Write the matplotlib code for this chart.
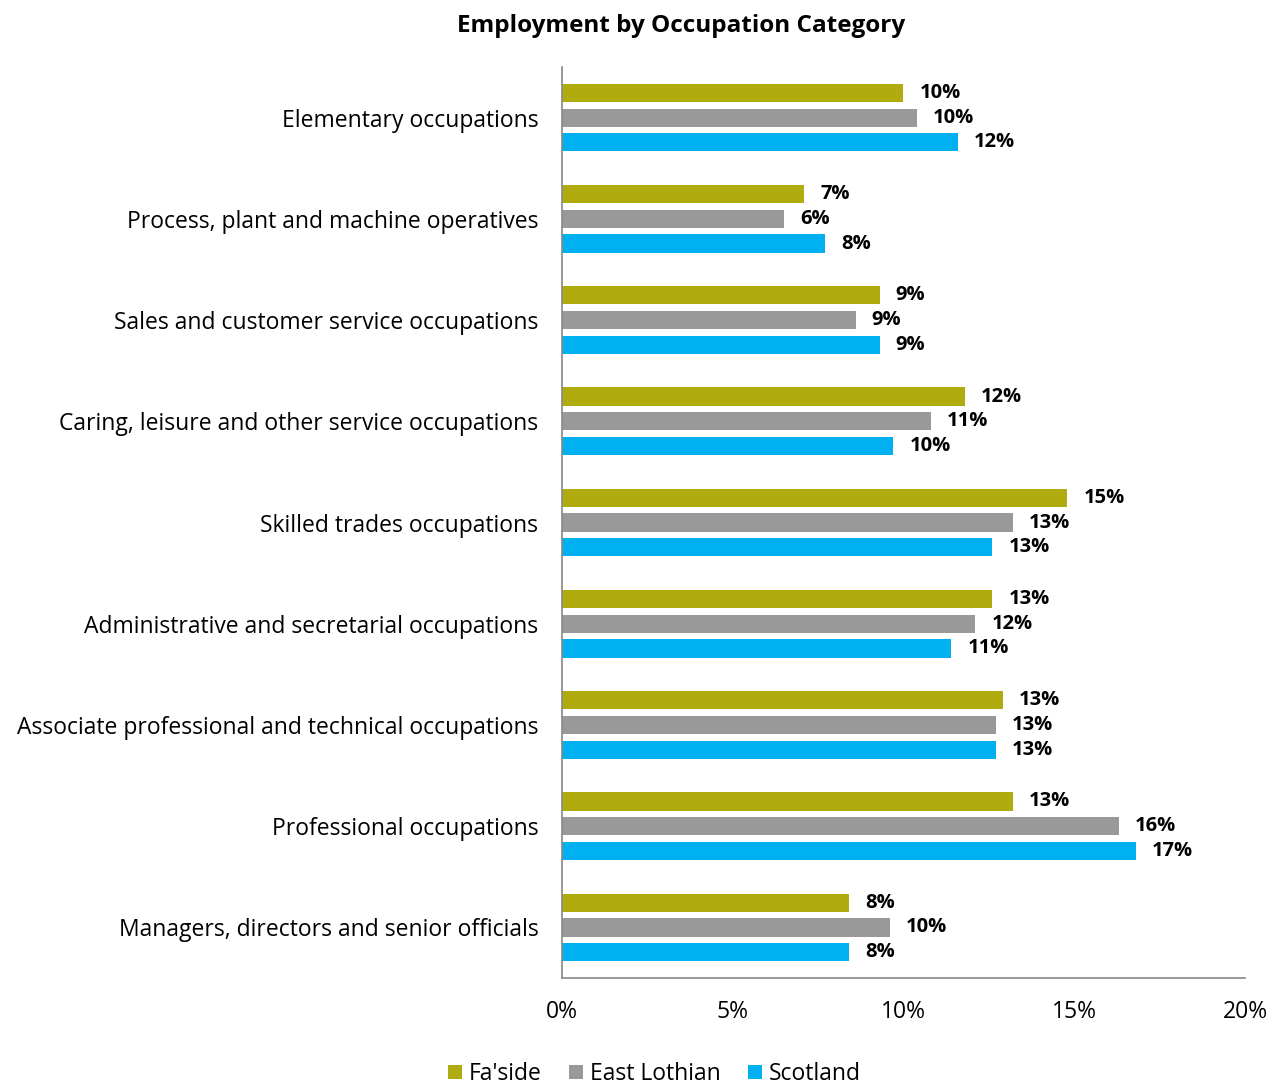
import matplotlib
matplotlib.use("Agg")
import matplotlib.pyplot as plt
import numpy as np

plt.rcParams['font.family'] = ['Open Sans', 'DejaVu Sans']

categories = [
    "Managers, directors and senior officials",
    "Professional occupations",
    "Associate professional and technical occupations",
    "Administrative and secretarial occupations",
    "Skilled trades occupations",
    "Caring, leisure and other service occupations",
    "Sales and customer service occupations",
    "Process, plant and machine operatives",
    "Elementary occupations",
]
series_names = ["Fa'side", "East Lothian", "Scotland"]
faside = [8.4, 13.2, 12.9, 12.6, 14.8, 11.8, 9.3, 7.1, 10.0]
east_lothian = [9.6, 16.3, 12.7, 12.1, 13.2, 10.8, 8.6, 6.5, 10.4]
scotland = [8.4, 16.8, 12.7, 11.4, 12.6, 9.7, 9.3, 7.7, 11.6]
x_ticks = [0, 5, 10, 15, 20]

colors = ["#B0AC10", "#999999", "#00B0F0"]

fig = plt.figure(figsize=(12.81, 10.88), dpi=100)
ax = fig.add_axes([0.4387, 0.1011, 0.5332, 0.8373])

y = np.arange(len(categories))
offsets = [0.244, 0.0, -0.244]
bar_h = 0.18
for vals, off, col, name in zip([faside, east_lothian, scotland], offsets, colors, series_names):
    bars = ax.barh(y + off, vals, height=bar_h, color=col, label=name)
    for b, v in zip(bars, vals):
        ax.text(v + 0.47, b.get_y() + b.get_height() / 2, f"{v:.0f}%",
                va="center", ha="left", fontsize=14.5, fontweight="bold")

ax.set_xlim(0, 20)
ax.set_ylim(-0.5, len(categories) - 0.5)
ax.set_xticks(x_ticks)
ax.set_xticklabels([f"{t}%" for t in x_ticks], fontsize=16.5)
ax.set_yticks(y)
ax.set_yticklabels(categories, fontsize=16.5)
ax.tick_params(axis="both", length=0)
ax.tick_params(axis="x", pad=16)
ax.tick_params(axis="y", pad=17)
for s in ["top", "right"]:
    ax.spines[s].set_visible(False)
for s in ["left", "bottom"]:
    ax.spines[s].set_color("#888888")
    ax.spines[s].set_linewidth(1.2)

fig.text(0.532, 0.976, "Employment by Occupation Category", ha="center", va="center",
         fontsize=17.5, fontweight="bold")

handles, labels = ax.get_legend_handles_labels()
fig.legend(handles, labels, loc="center", bbox_to_anchor=(0.511, 0.013), ncol=3,
           frameon=False, fontsize=16.5, handlelength=0.6, handleheight=0.6,
           handletextpad=0.3, columnspacing=1.2, borderpad=0.1)

fig.savefig("out.png", dpi=100)
